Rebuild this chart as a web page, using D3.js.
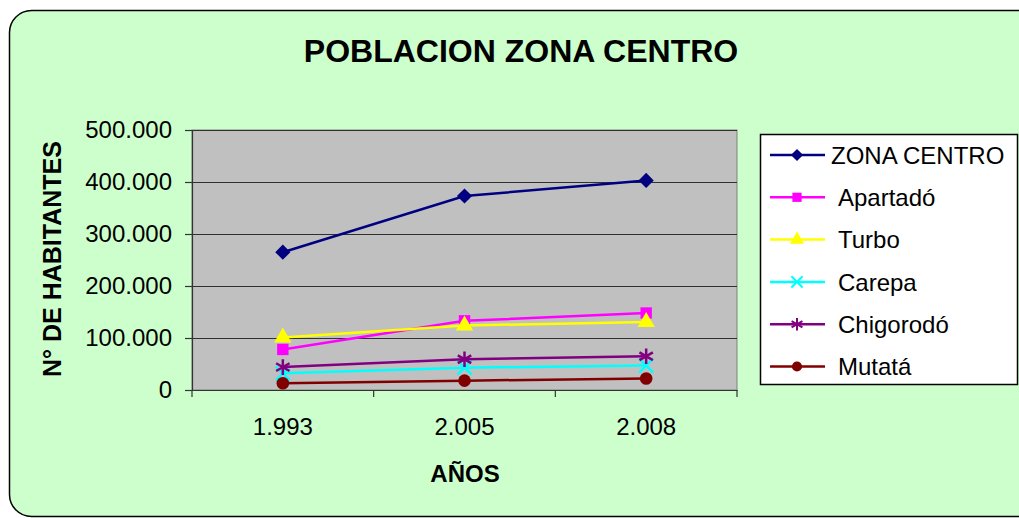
<!DOCTYPE html>
<html>
<head>
<meta charset="utf-8">
<script src="https://cdn.jsdelivr.net/npm/d3@7"></script>
<style>
  body { margin: 0; background: #fff; }
  svg { display: block; font-family: "Liberation Sans", Arial, sans-serif; }
</style>
</head>
<body>
<div id="chart"></div>
<script>
// data
var years = ["1.993", "2.005", "2.008"];
var seriesNames = ["ZONA CENTRO", "Apartadó", "Turbo", "Carepa", "Chigorodó", "Mutatá"];
var zonaCentro = [265000, 373000, 403000];
var apartado = [78000, 133000, 148000];
var turbo = [101000, 124000, 131000];
var carepa = [32000, 43000, 47000];
var chigorodo = [44000, 59000, 65000];
var mutata = [13000, 18000, 22000];
var yTicks = [0, 100000, 200000, 300000, 400000, 500000];

var colors = ["#000080", "#ff00ff", "#ffff00", "#00ffff", "#800080", "#800000"];
// diamond = square turned 45 degrees
var symbols = [d3.symbolSquare, d3.symbolSquare, d3.symbolTriangle, d3.symbolTimes, d3.symbolAsterisk, d3.symbolCircle];
var rotate = [45, 0, 0, 0, 0, 0];
var stroked = [false, false, false, true, true, false];

var allValues = [zonaCentro, apartado, turbo, carepa, chigorodo, mutata];
var series = seriesNames.map(function(n, i) {
  return { name: n, values: allValues[i], color: colors[i], symbol: symbols[i], rot: rotate[i], stroked: stroked[i] };
});

var width = 1019, height = 518;
var plot = { left: 192, top: 130, right: 737, bottom: 390 };

var svg = d3.select("#chart").append("svg").attr("width", width).attr("height", height);

// outer rounded frame
svg.append("rect").attr("x", 9.5).attr("y", 10.5).attr("width", 1030).attr("height", 506)
   .attr("rx", 22).attr("ry", 22)
   .attr("fill", "#ccffcc").attr("stroke", "#000").attr("stroke-width", 1.5);

svg.append("text").attr("x", 521).attr("y", 62).attr("text-anchor", "middle")
   .attr("font-size", 32).attr("font-weight", "bold").text("POBLACION ZONA CENTRO");

var x = d3.scaleBand().domain(years).range([plot.left, plot.right]);
var y = d3.scaleLinear().domain([0, 500000]).range([plot.bottom, plot.top]);

var loc = d3.formatLocale({ decimal: ",", thousands: ".", grouping: [3], currency: ["$", ""] });
var fmt = loc.format(",");

svg.append("rect").attr("x", plot.left).attr("y", plot.top)
   .attr("width", plot.right - plot.left).attr("height", plot.bottom - plot.top)
   .attr("fill", "#c0c0c0").attr("stroke", "#808080").attr("stroke-width", 1);

// gridlines
svg.append("g").selectAll("line").data(yTicks.slice(1)).enter().append("line")
   .attr("x1", plot.left).attr("x2", plot.right)
   .attr("y1", function(d) { return Math.round(y(d)) + 0.5; })
   .attr("y2", function(d) { return Math.round(y(d)) + 0.5; })
   .attr("stroke", "#303030").attr("stroke-width", 1.2);

var yAxis = svg.append("g").attr("transform", "translate(" + plot.left + ",0)")
   .call(d3.axisLeft(y).tickValues(yTicks).tickFormat(fmt).tickSize(7).tickPadding(13));
var xAxis = svg.append("g").attr("transform", "translate(0," + plot.bottom + ")")
   .call(d3.axisBottom(x).tickSize(0).tickPadding(37));
// category boundary ticks
svg.append("g").selectAll("line").data(d3.range(years.length + 1)).enter().append("line")
   .attr("x1", function(i) { return plot.left + i * x.step(); })
   .attr("x2", function(i) { return plot.left + i * x.step(); })
   .attr("y1", plot.bottom).attr("y2", plot.bottom + 7)
   .attr("stroke", "#333").attr("stroke-width", 1.2);

[yAxis, xAxis].forEach(function(a) {
  a.select(".domain").attr("stroke", "#333").attr("stroke-width", 1.2);
  a.selectAll(".tick line").attr("stroke", "#333").attr("stroke-width", 1.2);
  a.selectAll("text").attr("font-size", 24).attr("fill", "#000").attr("font-family", "Liberation Sans, Arial, sans-serif");
});
xAxis.selectAll("text").attr("dy", "0.35em");

svg.append("text").attr("transform", "translate(61,259) rotate(-90)").attr("text-anchor", "middle")
   .attr("font-size", 25).attr("font-weight", "bold").text("N° DE HABITANTES");
svg.append("text").attr("x", 465).attr("y", 482).attr("text-anchor", "middle")
   .attr("font-size", 24).attr("font-weight", "bold").text("AÑOS");

var line = d3.line().x(function(d, i) { return x(years[i]) + x.bandwidth() / 2; }).y(function(d) { return y(d); });

var markSize = [115, 130, 130, 130, 170, 125];
var gs = svg.append("g").selectAll("g").data(series).enter().append("g");
gs.append("path").attr("d", function(s) { return line(s.values); })
  .attr("fill", "none").attr("stroke", function(s) { return s.color; }).attr("stroke-width", 2.5);
gs.each(function(s, si) {
  d3.select(this).selectAll(".m").data(s.values).enter().append("path")
    .attr("transform", function(d, i) {
      return "translate(" + (x(years[i]) + x.bandwidth() / 2) + "," + y(d) + ") rotate(" + s.rot + ")";
    })
    .attr("d", d3.symbol().type(s.symbol).size(markSize[si]))
    .attr("fill", s.stroked ? "none" : s.color)
    .attr("stroke", s.stroked ? s.color : "none").attr("stroke-width", 2.5);
});

// legend
var lg = svg.append("g");
lg.append("rect").attr("x", 760.5).attr("y", 134.5).attr("width", 257).attr("height", 250)
  .attr("fill", "#fff").attr("stroke", "#000").attr("stroke-width", 1.5);
var items = lg.selectAll("g").data(series).enter().append("g")
  .attr("transform", function(s, i) { return "translate(0," + (155 + i * 42.3) + ")"; });
items.append("line").attr("x1", 770).attr("x2", 825).attr("y1", 0).attr("y2", 0)
  .attr("stroke", function(s) { return s.color; }).attr("stroke-width", 2.5);
items.append("path").attr("transform", function(s) { return "translate(797,0) rotate(" + s.rot + ")"; })
  .attr("d", function(s, i) { return d3.symbol().type(s.symbol).size(markSize[i] * 0.65)(); })
  .attr("fill", function(s) { return s.stroked ? "none" : s.color; })
  .attr("stroke", function(s) { return s.stroked ? s.color : "none"; }).attr("stroke-width", 2);
items.append("text").attr("x", function(s, i) { return i === 0 ? 831 : 838; }).attr("dy", "0.36em")
  .attr("font-size", 24).text(function(s) { return s.name; });
</script>
</body>
</html>
